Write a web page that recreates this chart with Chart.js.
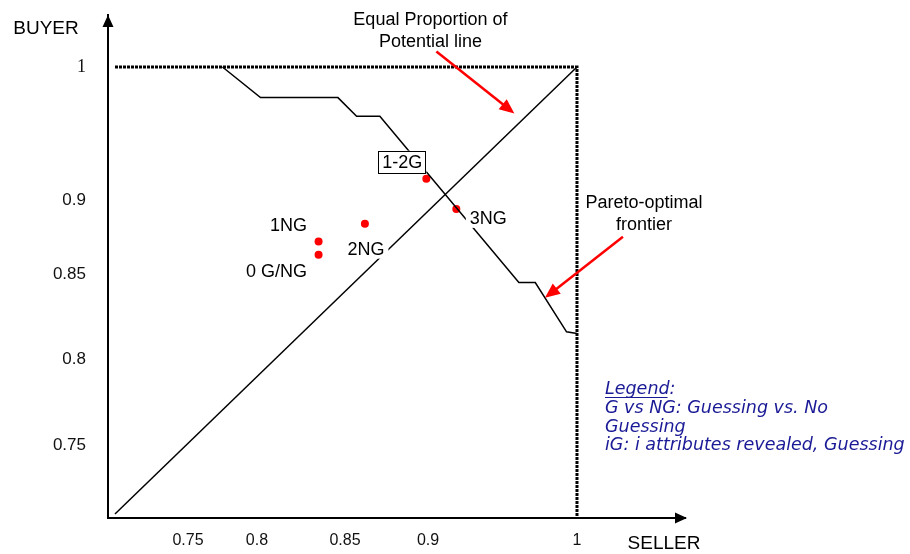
<!DOCTYPE html>
<html><head><meta charset="utf-8">
<script src="https://cdn.jsdelivr.net/npm/chart.js@4/dist/chart.umd.min.js"></script>
<style>html,body{margin:0;padding:0;background:#fff;}#wrap{width:910px;height:554px;position:relative;}</style>
</head><body><div id="wrap"><canvas id="c" width="910" height="554"></canvas></div>
<script>
// ---------------- data ----------------
const frontierX = [0.775, 0.802, 0.846, 0.857, 0.871, 0.961, 0.972, 0.993, 1.0];
const frontierY = [1.0, 0.977, 0.977, 0.963, 0.963, 0.845, 0.845, 0.816, 0.815];
const equalLineX = [0.70, 1.0];
const equalLineY = [0.70, 1.0];
const boundaryX = [0.70, 1.0, 1.0];
const boundaryY = [1.0, 1.0, 0.695];
const pointLabels = ['0 G/NG', '1NG', '2NG', '1-2G', '3NG'];
const pointX = [0.835, 0.835, 0.862, 0.899, 0.919];
const pointY = [0.863, 0.872, 0.884, 0.916, 0.894];
const xTickValues = [0.75, 0.8, 0.85, 0.9, 1];
const yTickValues = [0.75, 0.8, 0.85, 0.9, 1];
const xTitle = 'SELLER';
const yTitle = 'BUYER';
const legendLines = ['Legend:', 'G vs NG: Guessing vs. No', 'Guessing', 'iG: i attributes revealed, Guessing'];
const noteEqual = ['Equal Proportion of', 'Potential line'];
const notePareto = ['Pareto-optimal', 'frontier'];
const noteEqualTip = [0.958, 0.965];
const noteParetoTip = [0.9785, 0.836];

// -------- the original axes are not evenly spaced: piecewise axis mapping (value -> fraction of axis) --------
const xScaleKnots = [[0.695, 0], [0.70, 0.0121], [0.75, 0.1386], [0.80, 0.2582], [0.85, 0.4107], [0.90, 0.5546], [1.00, 0.8128], [1.07, 1]];
const yScaleKnots = [[0.695, 0], [0.70, 0.008], [0.75, 0.1451], [0.80, 0.3161], [0.85, 0.4851], [0.90, 0.6322], [1.00, 0.8966], [1.04, 1]];
const scaleKnots = { x: xScaleKnots, y: yScaleKnots };

function mapKnots(k, v, from, to) {
  let i = 0;
  while (i < k.length - 2 && v > k[i + 1][from]) i++;
  const a = k[i], b = k[i + 1];
  return a[to] + (v - a[from]) * (b[to] - a[to]) / (b[from] - a[from]);
}
const LinearScale = Chart.LinearScale || Chart.registry.getScale('linear');
class PiecewiseScale extends LinearScale {
  getPixelForValue(value) {
    if (value === null || value === undefined) return NaN;
    return this.getPixelForDecimal(mapKnots(scaleKnots[this.id], value, 0, 1));
  }
  getValueForPixel(pixel) {
    return mapKnots(scaleKnots[this.id], this.getDecimalForPixel(pixel), 1, 0);
  }
}
PiecewiseScale.id = 'piecewise';
PiecewiseScale.defaults = LinearScale.defaults;
Chart.register(PiecewiseScale);

const zip = (xs, ys) => xs.map((v, i) => ({ x: v, y: ys[i] }));

// label offsets (px) from each point
const labelOffsets = [[-42, 16], [-30, -16], [1, 25], [-24, -17], [32, 9]];
const labelFont = '18px "Liberation Sans", Arial, sans-serif';

function drawArrow(ctx, x1, y1, x2, y2, color, w, hl, hw) {
  const ang = Math.atan2(y2 - y1, x2 - x1);
  ctx.strokeStyle = color; ctx.fillStyle = color; ctx.lineWidth = w;
  ctx.beginPath(); ctx.moveTo(x1, y1);
  ctx.lineTo(x2 - Math.cos(ang) * hl * 0.8, y2 - Math.sin(ang) * hl * 0.8); ctx.stroke();
  ctx.beginPath(); ctx.moveTo(x2, y2);
  ctx.lineTo(x2 - Math.cos(ang) * hl + Math.sin(ang) * hw, y2 - Math.sin(ang) * hl - Math.cos(ang) * hw);
  ctx.lineTo(x2 - Math.cos(ang) * hl - Math.sin(ang) * hw, y2 - Math.sin(ang) * hl + Math.cos(ang) * hw);
  ctx.closePath(); ctx.fill();
}

const deco = {
  id: 'deco',
  afterDatasetsDraw(chart) {
    const { ctx, scales: { x, y } } = chart;
    ctx.save();
    ctx.font = labelFont;
    ctx.textAlign = 'center';
    ctx.textBaseline = 'middle';
    pointLabels.forEach((t, i) => {
      const px = x.getPixelForValue(pointX[i]) + labelOffsets[i][0];
      const py = y.getPixelForValue(pointY[i]) + labelOffsets[i][1];
      const w = ctx.measureText(t).width;
      ctx.fillStyle = '#fff';
      ctx.fillRect(px - w / 2 - 4, py - 10, w + 8, 20);
      if (t === '1-2G') {
        ctx.fillRect(px - w / 2 - 4, py - 11, w + 8, 22);
        ctx.strokeStyle = '#000'; ctx.lineWidth = 1;
        ctx.strokeRect(Math.round(px - w / 2 - 4) + 0.5, Math.round(py - 11) + 0.5, Math.round(w + 7), 22);
      }
      ctx.fillStyle = '#000';
      ctx.fillText(t, px, py + 1);
    });
    ctx.restore();
  },
  afterDraw(chart) {
    const { ctx, chartArea: ca, scales: { x, y } } = chart;
    ctx.save();
    // axis arrow heads
    ctx.fillStyle = '#000';
    ctx.beginPath(); ctx.moveTo(ca.left, ca.top); ctx.lineTo(ca.left - 5.5, ca.top + 12); ctx.lineTo(ca.left + 5.5, ca.top + 12); ctx.closePath(); ctx.fill();
    ctx.beginPath(); ctx.moveTo(ca.right + 2, ca.bottom); ctx.lineTo(ca.right - 10, ca.bottom - 5.5); ctx.lineTo(ca.right - 10, ca.bottom + 5.5); ctx.closePath(); ctx.fill();
    // axis titles
    ctx.font = '19px "Liberation Sans", Arial, sans-serif';
    ctx.fillStyle = '#000';
    ctx.textAlign = 'center'; ctx.textBaseline = 'middle';
    ctx.fillText(yTitle, ca.left - 62, ca.top + 14);
    ctx.fillText(xTitle, ca.right - 21, ca.bottom + 26);
    // annotations
    ctx.font = labelFont;
    const notes = [
      { lines: noteEqual, tip: noteEqualTip, tail: [-78, -62], text: [-84, -94] },
      { lines: notePareto, tip: noteParetoTip, tail: [78, -61], text: [99, -95] }
    ];
    notes.forEach(n => {
      const tx = x.getPixelForValue(n.tip[0]), ty = y.getPixelForValue(n.tip[1]);
      ctx.fillStyle = '#000';
      n.lines.forEach((l, i) => ctx.fillText(l, tx + n.text[0], ty + n.text[1] + i * 22));
      drawArrow(ctx, tx + n.tail[0], ty + n.tail[1], tx, ty, '#ff0000', 2.5, 15, 6.5);
    });
    // legend text block
    ctx.font = 'italic 17.5px "DejaVu Sans", Verdana, sans-serif';
    ctx.fillStyle = '#1a1a96';
    ctx.textAlign = 'left';
    const lx = 605, ly = [389, 408, 427, 445];
    legendLines.forEach((l, i) => ctx.fillText(l, lx, ly[i]));
    const uw = ctx.measureText('Legend').width;
    ctx.strokeStyle = '#1a1a96'; ctx.lineWidth = 1;
    ctx.beginPath(); ctx.moveTo(lx, ly[0] + 8.5); ctx.lineTo(lx + uw - 2, ly[0] + 8.5); ctx.stroke();
    ctx.restore();
  }
};

new Chart(document.getElementById('c'), {
  type: 'scatter',
  data: {
    datasets: [
      { data: zip(boundaryX, boundaryY), showLine: true, borderColor: '#000', borderWidth: 3, borderDash: [3, 1], pointRadius: 0, fill: false },
      { data: zip(equalLineX, equalLineY), showLine: true, borderColor: '#000', borderWidth: 1.5, pointRadius: 0, fill: false },
      { data: zip(frontierX, frontierY), showLine: true, borderColor: '#000', borderWidth: 1.5, pointRadius: 0, fill: false },
      { data: zip(pointX, pointY), showLine: false, pointRadius: 4, pointBackgroundColor: '#ff0000', pointBorderWidth: 0, pointBorderColor: '#ff0000' }
    ]
  },
  options: {
    responsive: false,
    animation: false,
    events: [],
    layout: { padding: { left: 0, right: 225, top: 15, bottom: 0 } },
    plugins: { legend: { display: false }, tooltip: { enabled: false } },
    scales: {
      x: {
        type: 'piecewise', min: 0.695, max: 1.07,
        afterBuildTicks: s => { s.ticks = xTickValues.map(v => ({ value: v })); },
        afterFit: s => { s.height = 36; s.paddingLeft = 0; s.paddingRight = 0; },
        grid: { drawOnChartArea: false, drawTicks: false },
        border: { display: true, color: '#000', width: 2 },
        ticks: { padding: 13, color: '#111', maxRotation: 0, autoSkip: false, font: { family: '"Liberation Sans", Arial, sans-serif', size: 16 }, callback: v => String(v) }
      },
      y: {
        type: 'piecewise', min: 0.695, max: 1.04,
        afterBuildTicks: s => { s.ticks = yTickValues.map(v => ({ value: v })); },
        afterFit: s => { s.width = 108; s.paddingTop = 0; s.paddingBottom = 0; },
        grid: { drawOnChartArea: false, drawTicks: false },
        border: { display: true, color: '#000', width: 2 },
        ticks: {
          padding: 22, color: '#111', autoSkip: false,
          font: c => (c.tick && c.tick.value === 1) ? { family: '"Liberation Serif", "Times New Roman", serif', size: 18 } : { family: '"Liberation Sans", Arial, sans-serif', size: 17 },
          callback: v => String(v)
        }
      }
    }
  },
  plugins: [deco]
});
</script>
</body></html>
